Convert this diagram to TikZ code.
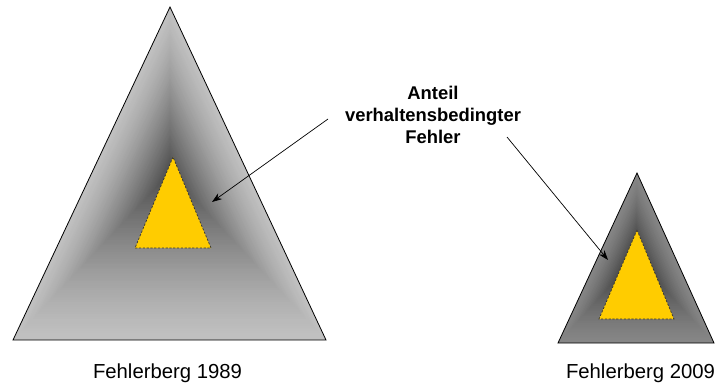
\documentclass[tikz,border=0pt]{standalone}
\usepackage{fontspec}
\setmainfont{Liberation Sans}
\usetikzlibrary{calc,arrows.meta}
\definecolor{bigLight}{HTML}{C0C0C0}
\definecolor{bigDark}{HTML}{4A4A4A}
\definecolor{smLight}{HTML}{868686}
\definecolor{smDark}{HTML}{303030}
\definecolor{gold}{HTML}{FFCC00}
\tikzset{
  outline/.style={draw=black,line width=0.8pt},
  core/.style={fill=gold,draw=black!80,line width=0.7pt,dash pattern=on 2.2pt off 1.6pt},
  pointer/.style={draw=black,line width=0.7pt,-{Stealth[length=10pt,width=7pt]}},
  lbl/.style={align=center,font=\fontsize{18.4}{22}\selectfont\bfseries,inner sep=0pt},
  captext/.style={font=\fontsize{20.3}{22}\selectfont,inner sep=0pt,anchor=base},
}
\newcommand\gradtri[7]{% center, A, B, D, light, dark, steps
  \foreach \i in {0,...,#7}{
    \pgfmathsetmacro\s{1-\i/#7}
    \pgfmathtruncatemacro\p{100*(1-\s)^1.3}
    \fill[#6!\p!#5] ($(#1)!\s!(#2)$) -- ($(#1)!\s!(#3)$) -- ($(#1)!\s!(#4)$) -- cycle;
  }
}
\begin{document}
\begin{tikzpicture}[x=1pt,y=-1pt]
\useasboundingbox (0,0) rectangle (720,385);
% big triangle
\coordinate (bA) at (170,7);
\coordinate (bB) at (13,340);
\coordinate (bD) at (326,340);
\coordinate (bC) at (170,173);
\gradtri{bC}{bA}{bB}{bD}{bigLight}{bigDark}{70}
\draw[outline] (bA) -- (bB) -- (bD) -- cycle;
\coordinate (yA) at (173,157);
\coordinate (yB) at (135,248);
\coordinate (yD) at (211,248);
\draw[core] (yA) -- (yB) -- (yD) -- cycle;
% small triangle
\coordinate (sA) at (637,173);
\coordinate (sB) at (558,343);
\coordinate (sD) at (714,343);
\coordinate (sC) at (636,258);
\gradtri{sC}{sA}{sB}{sD}{smLight}{smDark}{50}
\draw[outline] (sA) -- (sB) -- (sD) -- cycle;
\coordinate (zA) at (637,230);
\coordinate (zB) at (599,319);
\coordinate (zD) at (674,319);
\draw[core] (zA) -- (zB) -- (zD) -- cycle;
% label and arrows
\node[lbl] (lab) at (433,115) {Anteil\\verhaltensbedingter\\Fehler};
\coordinate (t1) at (328,119);
\coordinate (h1) at (212,202);
\coordinate (t2) at (507,137);
\coordinate (h2) at (608,260);
\draw[pointer] (t1) -- (h1);
\draw[pointer] (t2) -- (h2);
% captions
\node[captext] (c1) at (167.5,378) {Fehlerberg 1989};
\node[captext] (c2) at (640.5,378) {Fehlerberg 2009};
\end{tikzpicture}
\end{document}
